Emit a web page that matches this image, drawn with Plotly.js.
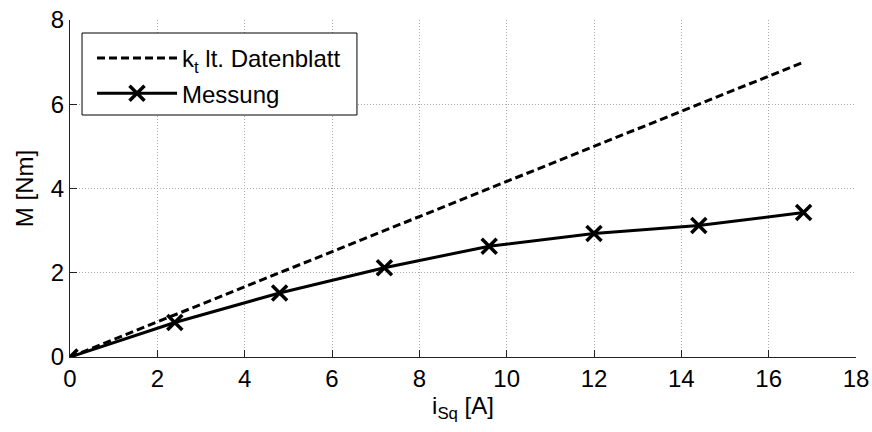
<!DOCTYPE html>
<html>
<head>
<meta charset="utf-8">
<script src="https://cdn.plot.ly/plotly-3.0.1.min.js"></script>
<style>html,body{margin:0;padding:0;background:#fff}#chart{width:872px;height:432px}</style>
</head>
<body>
<div id="chart"></div>
<script>
// Data
var datasheetX = [0, 16.8];
var datasheetY = [0, 7.0];
var messX = [0, 2.4, 4.8, 7.2, 9.6, 12.0, 14.4, 16.8];
var messY = [0, 0.82, 1.52, 2.12, 2.63, 2.93, 3.12, 3.43];
var xTicks = [0, 2, 4, 6, 8, 10, 12, 14, 16, 18];
var yTicks = [0, 2, 4, 6, 8];
var seriesNames = ["k<sub>t</sub> lt. Datenblatt", "Messung"];

var FONT = "Liberation Sans, Arial, Helvetica, sans-serif";
var FS = 24;

var traces = [
  {
    x: datasheetX, y: datasheetY, name: seriesNames[0], mode: "lines",
    legendgroup: "a",
    line: {color: "#000", width: 3, dash: "8px,4px"}
  },
  {
    x: messX, y: messY, name: seriesNames[1], mode: "lines+markers",
    legendgroup: "b",
    line: {color: "#000", width: 3},
    marker: {symbol: "x-thin", size: 15, color: "#000", line: {color: "#000", width: 3.5}}
  }
];

var axisCommon = {
  showline: true, linecolor: "#222", linewidth: 1,
  ticks: "inside", ticklen: 7, tickcolor: "#222", tickwidth: 1,
  showgrid: true, gridcolor: "#aaa", gridwidth: 1, griddash: "1px,2px",
  zeroline: false, mirror: false,
  tickfont: {family: FONT, size: FS, color: "#000"}
};

var layout = {
  width: 872, height: 432,
  margin: {l: 70, r: 16, t: 20, b: 75},
  paper_bgcolor: "#fff", plot_bgcolor: "#fff",
  showlegend: true,
  font: {family: FONT, size: FS, color: "#000"},
  xaxis: Object.assign({}, axisCommon, {
    range: [0, 18], tickvals: xTicks, ticktext: xTicks.map(String),
    automargin: false,
    title: {text: "i<sub>Sq</sub> [A]", font: {family: FONT, size: FS}, standoff: 4}
  }),
  yaxis: Object.assign({}, axisCommon, {
    range: [0, 8], tickvals: yTicks, ticktext: yTicks.map(String),
    automargin: "left",
    title: {text: "M [Nm]", font: {family: FONT, size: FS}, standoff: 10}
  }),
  shapes: [{
    type: "rect", xref: "paper", yref: "paper", layer: "above",
    x0: 0.0153, x1: 0.3651, y0: 0.7181, y1: 0.9614,
    line: {color: "#000", width: 1}, fillcolor: "#fff"
  }],
  legend: {
    x: 0.028, y: 0.9525, xanchor: "left", yanchor: "top",
    bgcolor: "rgba(0,0,0,0)", borderwidth: 0,
    font: {family: FONT, size: FS, color: "#000"},
    itemwidth: 80, tracegroupgap: 1, traceorder: "grouped"
  }
};

Plotly.newPlot("chart", traces, layout, {displayModeBar: false, staticPlot: true});
</script>
</body>
</html>
